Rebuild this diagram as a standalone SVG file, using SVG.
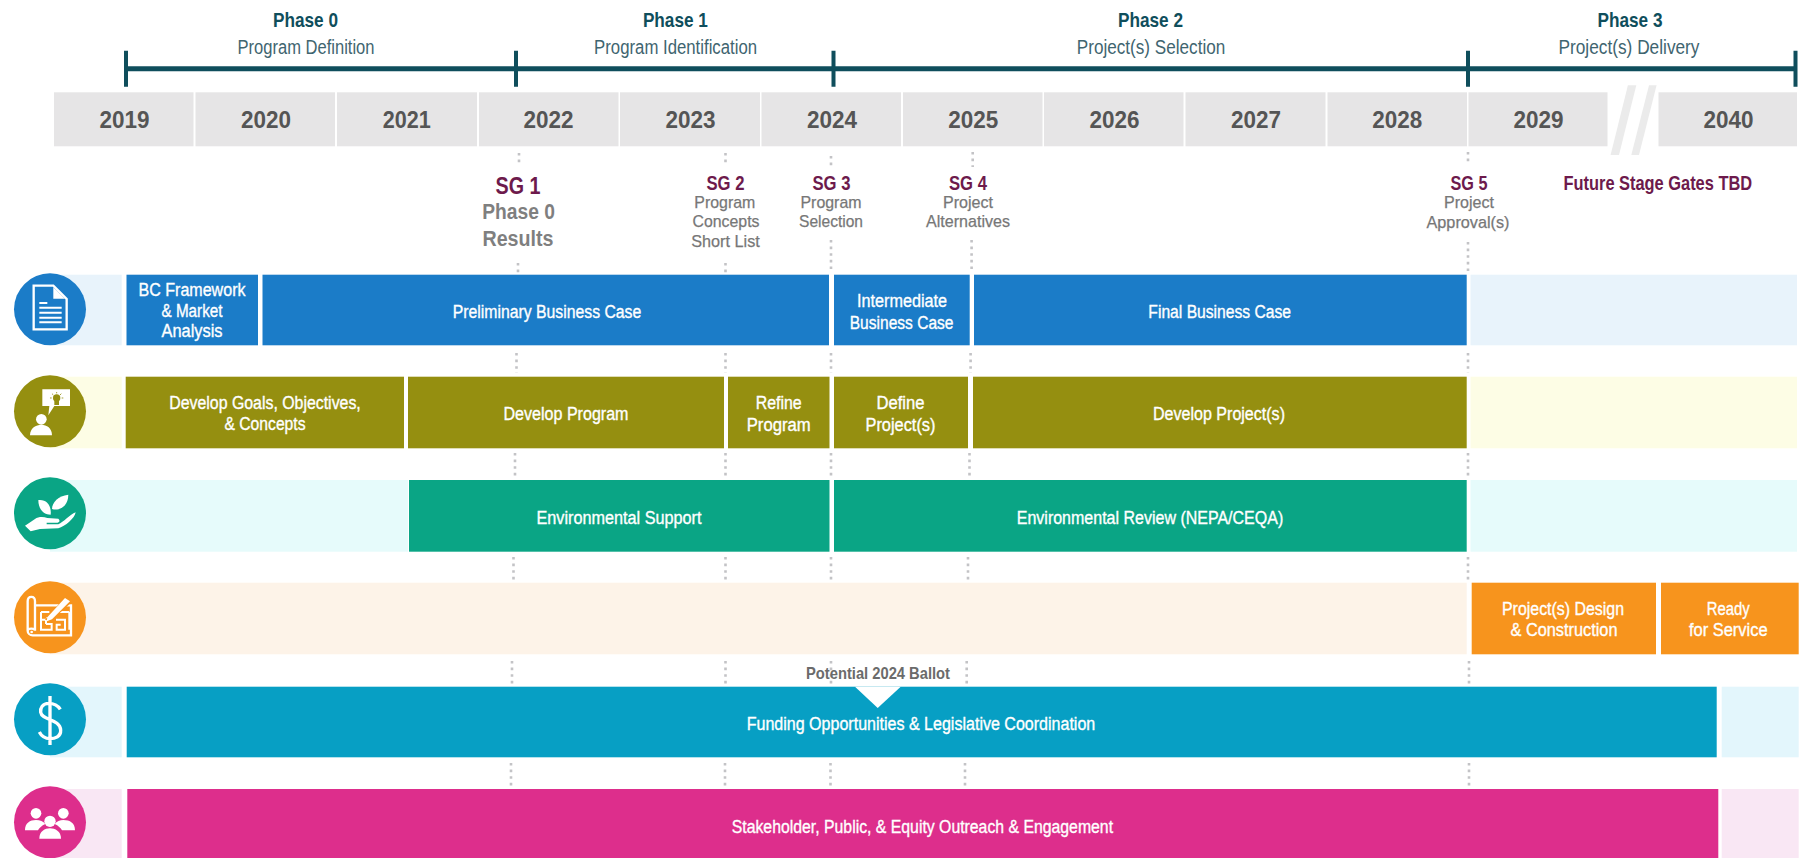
<svg xmlns="http://www.w3.org/2000/svg" width="1801" height="858" viewBox="0 0 1801 858">
<defs>
<style>
text{font-family:"Liberation Sans",Arial,sans-serif;text-anchor:middle}
.ph{font-size:21px;font-weight:700;fill:#0f4e5c}
.phs{font-size:20px;fill:#3f6570}
.yr{font-size:23px;font-weight:700;fill:#555}
.yb{fill:#e6e5e6}
.sl{fill:#ebebeb}
.sg{font-size:21px;font-weight:700;fill:#6d1a4c}
.sgb{font-size:23.5px}
.sub{font-size:17px;fill:#777;stroke:#777;stroke-width:.25}
.subb{font-size:22px;font-weight:700;fill:#7f7f7f}
.l{font-size:18px;fill:#fff;stroke:#fff;stroke-width:.35}
.note{font-size:16.5px;font-weight:700;fill:#6b6b6b}
.tl{stroke:#0f4e5c;stroke-width:5;fill:none}
.tk{stroke:#0f4e5c;stroke-width:4;fill:none}
.dot{stroke:#c3c3c6;stroke-width:2.6;stroke-dasharray:2.6 4;fill:none}
.ic{fill:#fff}
.ico{fill:none;stroke:#fff}
.blue{fill:#1b7cc8}.olive{fill:#958f10}.green{fill:#0aa585}.orange{fill:#f7941d}.teal{fill:#079fc4}.pink{fill:#dd2e8c}
</style>
</defs>
<rect width="1801" height="858" fill="#fff"/>

<g id="years">
<rect class="yb" x="54" y="92.3" width="139.5" height="54"/>
<rect class="yb" x="195.5" y="92.3" width="139.5" height="54"/>
<rect class="yb" x="337" y="92.3" width="140" height="54"/>
<rect class="yb" x="479" y="92.3" width="139.5" height="54"/>
<rect class="yb" x="620" y="92.3" width="140" height="54"/>
<rect class="yb" x="761.5" y="92.3" width="139.5" height="54"/>
<rect class="yb" x="903" y="92.3" width="139.5" height="54"/>
<rect class="yb" x="1044" y="92.3" width="139.5" height="54"/>
<rect class="yb" x="1185.5" y="92.3" width="140" height="54"/>
<rect class="yb" x="1327.5" y="92.3" width="139.5" height="54"/>
<rect class="yb" x="1468.5" y="92.3" width="139" height="54"/>
<rect class="yb" x="1658.5" y="92.3" width="138.5" height="54"/>
<polygon class="sl" points="1627.9,85.3 1636.3,85.3 1619,155 1610.6,155"/>
<polygon class="sl" points="1649,85.3 1656.6,85.3 1639,155 1631.3,155"/>
<text class="yr" x="124.5" y="128.3" textLength="50" lengthAdjust="spacingAndGlyphs">2019</text>
<text class="yr" x="266" y="128.3" textLength="50" lengthAdjust="spacingAndGlyphs">2020</text>
<text class="yr" x="406.8" y="128.3" textLength="48" lengthAdjust="spacingAndGlyphs">2021</text>
<text class="yr" x="548.4" y="128.3" textLength="50" lengthAdjust="spacingAndGlyphs">2022</text>
<text class="yr" x="690.4" y="128.3" textLength="50" lengthAdjust="spacingAndGlyphs">2023</text>
<text class="yr" x="832" y="128.3" textLength="50" lengthAdjust="spacingAndGlyphs">2024</text>
<text class="yr" x="973.2" y="128.3" textLength="50" lengthAdjust="spacingAndGlyphs">2025</text>
<text class="yr" x="1114.5" y="128.3" textLength="50" lengthAdjust="spacingAndGlyphs">2026</text>
<text class="yr" x="1256" y="128.3" textLength="50" lengthAdjust="spacingAndGlyphs">2027</text>
<text class="yr" x="1397.2" y="128.3" textLength="50" lengthAdjust="spacingAndGlyphs">2028</text>
<text class="yr" x="1538.5" y="128.3" textLength="50" lengthAdjust="spacingAndGlyphs">2029</text>
<text class="yr" x="1728.5" y="128.3" textLength="50" lengthAdjust="spacingAndGlyphs">2040</text>
</g>

<g id="phase-0"><text class="ph" x="305.5" y="26.7" textLength="65" lengthAdjust="spacingAndGlyphs">Phase 0</text><text class="phs" x="306" y="54" textLength="137" lengthAdjust="spacingAndGlyphs">Program Definition</text></g>
<g id="phase-1"><text class="ph" x="675.4" y="26.7" textLength="65" lengthAdjust="spacingAndGlyphs">Phase 1</text><text class="phs" x="675.6" y="54" textLength="163" lengthAdjust="spacingAndGlyphs">Program Identification</text></g>
<g id="phase-2"><text class="ph" x="1150.5" y="26.7" textLength="65" lengthAdjust="spacingAndGlyphs">Phase 2</text><text class="phs" x="1151" y="54" textLength="148.5" lengthAdjust="spacingAndGlyphs">Project(s) Selection</text></g>
<g id="phase-3"><text class="ph" x="1630" y="26.7" textLength="65" lengthAdjust="spacingAndGlyphs">Phase 3</text><text class="phs" x="1629" y="54" textLength="141" lengthAdjust="spacingAndGlyphs">Project(s) Delivery</text></g>

<g id="connectors">
<path class="tl" d="M126 68.7H1795.5"/>
<path class="tk" d="M126 50.7V86.7M516 50.7V86.7M833.5 50.7V86.7M1468 50.7V86.7M1795.5 50.7V86.7"/>
<path class="dot" d="M519 153V164M518 263V273M516.5 353V373M515 453V477M513.5 557V581M512 661V684M511 763V787"/>
<path class="dot" d="M725.5 153V164M725.5 263V273M725.5 353V373M725.5 453V477M725.5 557V581M725.5 661V684M725 763V787"/>
<path class="dot" d="M831 156V167M831 240V271M831 353V373M831 453V477M831 557V581M831 661V684M830.5 763V787"/>
<path class="dot" d="M972.7 152V167M971.6 240V271M970.6 353V373M969.5 453V477M968 557V581M966.7 661V684M965 763V787"/>
<path class="dot" d="M1468 152V164M1468 242V273M1468 353V373M1468 453V477M1468 557V581M1469 661V684M1469 763V787"/>
</g>

<g id="sg-1"><text class="sg sgb" x="518" y="194" textLength="45" lengthAdjust="spacingAndGlyphs">SG 1</text><text class="subb" x="518.6" y="219.3" textLength="72.7" lengthAdjust="spacingAndGlyphs">Phase 0</text><text class="subb" x="518" y="246" textLength="71" lengthAdjust="spacingAndGlyphs">Results</text></g>
<g id="sg-2"><text class="sg" x="725.5" y="190" textLength="38" lengthAdjust="spacingAndGlyphs">SG 2</text><text class="sub" x="724.8" y="208.3" textLength="61" lengthAdjust="spacingAndGlyphs">Program</text><text class="sub" x="726" y="227.3" textLength="67" lengthAdjust="spacingAndGlyphs">Concepts</text><text class="sub" x="725.5" y="246.7" textLength="68.5" lengthAdjust="spacingAndGlyphs">Short List</text></g>
<g id="sg-3"><text class="sg" x="831.5" y="190" textLength="38" lengthAdjust="spacingAndGlyphs">SG 3</text><text class="sub" x="831" y="208.3" textLength="61" lengthAdjust="spacingAndGlyphs">Program</text><text class="sub" x="831" y="227.3" textLength="64" lengthAdjust="spacingAndGlyphs">Selection</text></g>
<g id="sg-4"><text class="sg" x="968" y="190" textLength="38" lengthAdjust="spacingAndGlyphs">SG 4</text><text class="sub" x="968" y="208.3" textLength="50" lengthAdjust="spacingAndGlyphs">Project</text><text class="sub" x="968" y="227.3" textLength="84" lengthAdjust="spacingAndGlyphs">Alternatives</text></g>
<g id="sg-5"><text class="sg" x="1469" y="190" textLength="37" lengthAdjust="spacingAndGlyphs">SG 5</text><text class="sub" x="1469" y="208.3" textLength="50" lengthAdjust="spacingAndGlyphs">Project</text><text class="sub" x="1468" y="227.7" textLength="83" lengthAdjust="spacingAndGlyphs">Approval(s)</text></g>
<g id="sg-future"><text class="sg" x="1657.8" y="190" textLength="188.6" lengthAdjust="spacingAndGlyphs">Future Stage Gates TBD</text></g>

<g id="row-business-case">
<rect x="50" y="274.7" width="71.7" height="70.6" fill="#e8f3fb"/>
<rect x="1470.5" y="274.7" width="326.5" height="70.6" fill="#e8f3fb"/>
<g id="bc-framework"><rect class="blue" x="126.5" y="274.7" width="131.5" height="70.6"/><text class="l" x="192" y="296" textLength="107" lengthAdjust="spacingAndGlyphs">BC Framework</text><text class="l" x="192" y="316.7" textLength="61" lengthAdjust="spacingAndGlyphs">&amp; Market</text><text class="l" x="192" y="337" textLength="61" lengthAdjust="spacingAndGlyphs">Analysis</text></g>
<g id="prelim-bc"><rect class="blue" x="262.5" y="274.7" width="566.5" height="70.6"/><text class="l" x="547" y="318" textLength="188.6" lengthAdjust="spacingAndGlyphs">Preliminary Business Case</text></g>
<g id="intermediate-bc"><rect class="blue" x="834" y="274.7" width="135.7" height="70.6"/><text class="l" x="902" y="307.3" textLength="90" lengthAdjust="spacingAndGlyphs">Intermediate</text><text class="l" x="901.6" y="329.3" textLength="103.7" lengthAdjust="spacingAndGlyphs">Business Case</text></g>
<g id="final-bc"><rect class="blue" x="974" y="274.7" width="492.7" height="70.6"/><text class="l" x="1219.7" y="318" textLength="142.7" lengthAdjust="spacingAndGlyphs">Final Business Case</text></g>
<g id="icon-document" transform="translate(10 270) scale(.3333)">
<circle class="blue" cx="120" cy="118" r="108"/>
<path class="ico" stroke-width="7" d="M71 47H130L170 87V178H71Z"/>
<path class="ic" d="M130 52L165 86H130Z"/>
<path class="ico" stroke-width="6" d="M88 99H112M88 113H155M88 128H155M88 143H155M88 157H155"/>
</g>
</g>

<g id="row-planning">
<rect x="50" y="376.7" width="71.7" height="71.6" fill="#fdfde5"/>
<rect x="1470.5" y="376.7" width="326.5" height="71.6" fill="#fdfde5"/>
<g id="goals"><rect class="olive" x="125.7" y="376.7" width="278.3" height="71.6"/><text class="l" x="265" y="409.3" textLength="191.6" lengthAdjust="spacingAndGlyphs">Develop Goals, Objectives,</text><text class="l" x="265" y="430" textLength="81" lengthAdjust="spacingAndGlyphs">&amp; Concepts</text></g>
<g id="develop-program"><rect class="olive" x="408" y="376.7" width="316" height="71.6"/><text class="l" x="566" y="420" textLength="125" lengthAdjust="spacingAndGlyphs">Develop Program</text></g>
<g id="refine-program"><rect class="olive" x="728" y="376.7" width="101.5" height="71.6"/><text class="l" x="778.7" y="409.3" textLength="46" lengthAdjust="spacingAndGlyphs">Refine</text><text class="l" x="778.7" y="431" textLength="64" lengthAdjust="spacingAndGlyphs">Program</text></g>
<g id="define-projects"><rect class="olive" x="834" y="376.7" width="134" height="71.6"/><text class="l" x="900.5" y="409.3" textLength="48" lengthAdjust="spacingAndGlyphs">Define</text><text class="l" x="900.5" y="431" textLength="70" lengthAdjust="spacingAndGlyphs">Project(s)</text></g>
<g id="develop-projects"><rect class="olive" x="973" y="376.7" width="493.7" height="71.6"/><text class="l" x="1219" y="420" textLength="132" lengthAdjust="spacingAndGlyphs">Develop Project(s)</text></g>
<g id="icon-ideas" transform="translate(10 372) scale(.3333)">
<circle class="olive" cx="120" cy="118" r="108"/>
<path class="ic" d="M97 52H180V102H133L115 130L118 102H97Z"/>
<circle class="olive" cx="140" cy="78" r="11"/>
<rect class="olive" x="133" y="87" width="14" height="12"/>
<path stroke="#958f10" stroke-width="2.5" d="M120 78H125M155 78H160M126 65L130 69M154 65L150 69M140 60V64"/>
<circle class="ic" cx="94" cy="142" r="16"/>
<path class="ic" d="M60 190C60 168 78 158 94 158C110 158 126 168 126 190Z"/>
</g>
</g>

<g id="row-environmental">
<rect x="50" y="480" width="358" height="71.7" fill="#e6fbfb"/>
<rect x="1470.5" y="480" width="326.5" height="71.7" fill="#e6fbfb"/>
<g id="env-support"><rect class="green" x="409" y="480" width="420.5" height="71.7"/><text class="l" x="619" y="524" textLength="165" lengthAdjust="spacingAndGlyphs">Environmental Support</text></g>
<g id="env-review"><rect class="green" x="834" y="480" width="632.7" height="71.7"/><text class="l" x="1150" y="524" textLength="266.5" lengthAdjust="spacingAndGlyphs">Environmental Review (NEPA/CEQA)</text></g>
<g id="icon-plant" transform="translate(10 474) scale(.3333)">
<circle class="green" cx="120" cy="118" r="108"/>
<path class="ic" d="M85 78C110 75 125 95 122 122C100 122 85 105 85 78Z"/>
<path class="ic" d="M175 62C175 95 150 112 126 105C126 85 145 65 175 62Z"/>
<path class="ic" d="M45 155L75 135C85 128 100 128 112 132L145 134C151 139 149 146 140 146H110V151H145C160 145 180 122 197 115C195 132 165 158 145 163L90 165L62 172Z"/>
</g>
</g>

<g id="row-design">
<rect x="50" y="582.7" width="1416.7" height="71.6" fill="#fdf3e8"/>
<g id="design-construction"><rect class="orange" x="1471.7" y="582.7" width="184.3" height="71.6"/><text class="l" x="1563" y="615" textLength="122" lengthAdjust="spacingAndGlyphs">Project(s) Design</text><text class="l" x="1564" y="636" textLength="107" lengthAdjust="spacingAndGlyphs">&amp; Construction</text></g>
<g id="ready-service"><rect class="orange" x="1661" y="582.7" width="137.7" height="71.6"/><text class="l" x="1728.3" y="615" textLength="43" lengthAdjust="spacingAndGlyphs">Ready</text><text class="l" x="1728.3" y="636" textLength="78.7" lengthAdjust="spacingAndGlyphs">for Service</text></g>
<g id="icon-blueprint" transform="translate(10 578) scale(.3333)">
<circle class="orange" cx="120" cy="118" r="108"/>
<path class="ico" stroke-width="7" d="M53 158V70C53 52 75 52 75 70V158C75 150 53 150 53 158C53 166 60 172 68 172H183V82H75"/>
<circle class="ic" cx="65" cy="162" r="4"/>
<path class="ico" stroke-width="6" d="M93 102H118M93 102V155H125V138H108M93 125H112V118M108 138V125M178 102H140M138 125H165V155H140V140H152M178 102V155"/>
<path fill="#f7941d" d="M105 125L170 52L190 68L122 130Z"/>
<path class="ic" d="M112 118L165 60L180 70L126 124L110 130Z"/>
</g>
</g>

<g id="row-funding">
<rect x="50" y="686.7" width="71.7" height="70.6" fill="#e3f6fc"/>
<rect x="1721.7" y="686.7" width="77" height="70.6" fill="#e3f6fc"/>
<g id="funding"><rect class="teal" x="126.7" y="686.7" width="1590" height="70.6"/><polygon fill="#fff" points="855,686.7 900.7,686.7 877.7,708"/><text class="l" x="921" y="730" textLength="348.6" lengthAdjust="spacingAndGlyphs">Funding Opportunities &amp; Legislative Coordination</text></g>
<g id="ballot"><text class="note" x="878" y="679.3" textLength="144" lengthAdjust="spacingAndGlyphs">Potential 2024 Ballot</text></g>
<g id="icon-dollar" transform="translate(10 680) scale(.3333)">
<circle class="teal" cx="120" cy="118" r="108"/>
<path class="ico" stroke-width="10" d="M120 48V195M151 88C142 74 128 70 116 70C98 70 90 84 92 97C96 122 150 116 152 150C153 170 135 176 120 176C105 176 93 166 88 156"/>
</g>
</g>

<g id="row-outreach">
<rect x="50" y="789" width="71.7" height="69" fill="#f9e7f4"/>
<rect x="1721.7" y="789" width="77" height="69" fill="#f9e7f4"/>
<g id="outreach"><rect class="pink" x="127.3" y="789" width="1591" height="69"/><text class="l" x="922.4" y="833" textLength="381.3" lengthAdjust="spacingAndGlyphs">Stakeholder, Public, &amp; Equity Outreach &amp; Engagement</text></g>
<g id="icon-people" transform="translate(10 778) scale(.3333)">
<circle class="pink" cx="120" cy="133" r="108"/>
<circle class="ic" cx="120" cy="130" r="17"/>
<path class="ic" d="M88 182C88 160 105 151 120 151C135 151 153 160 153 182Z"/>
<circle class="ic" cx="78" cy="106" r="16"/>
<path class="ic" d="M45 157C45 135 60 126 78 126C90 126 100 130 106 138C95 143 88 150 84 157Z"/>
<circle class="ic" cx="160" cy="106" r="16"/>
<path class="ic" d="M195 157C195 135 180 126 160 126C150 126 140 130 134 138C145 143 152 150 156 157Z"/>
</g>
</g>
</svg>
